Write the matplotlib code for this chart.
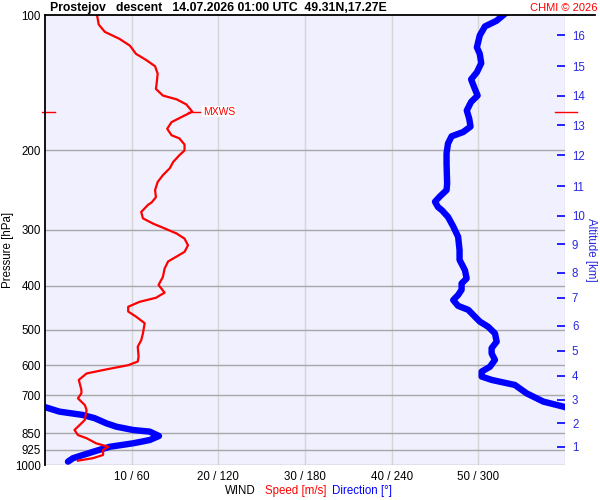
import numpy as np
import matplotlib.pyplot as plt
from matplotlib.lines import Line2D
from matplotlib.ticker import NullLocator

plt.rcParams['font.family'] = ['Liberation Sans', 'DejaVu Sans']

# pressure levels with labels (hPa)
p_labels = [100, 200, 300, 400, 500, 600, 700, 850, 925, 1000]
p_grid = [200, 300, 400, 500, 600, 700, 850, 925, 1000]
speed_ticks = [10, 20, 30, 40, 50]
speed_tick_labels = ['10 / 60', '20 / 120', '30 / 180', '40 / 240', '50 / 300']

# altitude (km) against pressure (hPa) of this sounding
alt_km = [1, 2, 3, 4, 5, 6, 7, 8, 9, 10, 11, 12, 13, 14, 15, 16]
alt_p = [911, 807, 717, 633, 558, 491, 425, 374, 323, 279, 240, 205, 176, 151, 130, 111]

# wind speed profile
spd_p = [100, 105, 109, 113, 117, 122, 126, 130, 135, 141, 146, 151, 154, 158, 164,
         168, 173, 179, 185, 188, 194, 200, 205, 212, 219, 227, 235, 245, 254, 261,
         264, 274, 283, 291, 298, 306, 314, 325, 336, 344, 353, 366, 382, 398, 414,
         425, 434, 445, 456, 468, 484, 510, 528, 546, 574, 589, 600, 613, 626, 647,
         681, 693, 711, 736, 755, 794, 815, 836, 858, 872, 895, 911, 926, 950, 966, 978]
spd = [6.0, 6.2, 6.9, 8.6, 9.8, 10.5, 11.7, 12.7, 13.0, 12.9, 12.8, 13.6, 15.2, 16.3, 17.0,
       15.9, 14.6, 14.1, 14.6, 15.5, 16.1, 16.1, 15.5, 14.8, 14.4, 13.6, 13.0, 12.7, 12.8, 12.3,
       11.9, 11.1, 11.3, 12.5, 13.8, 15.2, 16.1, 16.5, 16.1, 15.2, 14.2, 13.8, 13.6, 13.1, 13.8,
       12.8, 10.9, 9.6, 9.6, 10.5, 11.5, 11.3, 11.1, 10.7, 10.8, 10.7, 9.6, 7.1, 4.8, 3.9,
       4.2, 4.2, 3.8, 4.6, 4.8, 4.6, 4.0, 3.4, 3.8, 4.8, 5.9, 7.3, 6.7, 6.7, 5.5, 3.8]

# wind direction profile (deg)
dir_p = [99, 103, 106, 111, 118, 122, 128, 134, 139, 146, 151, 156, 163, 170, 177,
         182, 186, 193, 203, 214, 237, 245, 253, 260, 267, 272, 281, 295, 311, 333,
         350, 369, 385, 395, 408, 419, 430, 443, 452, 468, 480, 493, 510, 532, 550,
         565, 584, 605, 620, 636, 647, 664, 693, 723, 742, 761, 774, 787, 808, 822,
         836, 843, 862, 880, 895, 911, 930, 950, 966, 983]
wdir = [319, 312.6, 304.6, 301, 299, 301, 302, 299, 295, 297.6, 299.5, 295, 292, 293.7, 294.6,
        289.5, 281.5, 279, 278, 278, 278.4, 278, 273.4, 270, 272, 275, 279, 282.6, 286, 287,
        287, 290.7, 291.9, 288.4, 288.4, 286, 282.6, 286, 293, 297.6, 301, 306.8, 311.5, 312.7, 309.2,
        309.2, 311.5, 308, 302.3, 302.3, 309.2, 325.3, 333.4, 345, 359, 10, 26, 34.4, 42.5, 49.4,
        60.9, 72.5, 78.9, 72.5, 60.9, 44.8, 35.5, 26.3, 19.3, 15.9]

mxws_p = 164
mxws_speed = 17.0

fig = plt.figure(figsize=(6, 5), dpi=100)
ax = fig.add_axes([45 / 600, 35 / 500, 520 / 600, 450 / 500])
ax.set_facecolor('#f0f0ff')
ax.set_yscale('log')
ax.set_ylim(1000, 100)
ax.set_xlim(0, 60)

ax.set_yticks(p_labels)
ax.set_yticklabels([str(p) for p in p_labels])
ax.yaxis.set_minor_locator(NullLocator())
ax.set_xticks(speed_ticks)
ax.set_xticklabels(speed_tick_labels)
ax.tick_params(axis='both', length=0, labelsize=8.3, colors='black')
ax.tick_params(axis='y', pad=3)
ax.tick_params(axis='x', pad=4)

for s in ['top', 'right', 'bottom']:
    ax.spines[s].set_visible(False)
ax.spines['left'].set_linewidth(1.3)
ax.spines['left'].set_zorder(5)

# grid
ax.vlines(speed_ticks + [60], 1000, 100, color='#d6d6d6', lw=1, zorder=1)
ax.hlines(p_grid, 0, 60, color='#a8a8a8', lw=1, zorder=1)

# direction axis on top of the same frame
axd = ax.twiny()
axd.set_xlim(0, 360)
axd.set_xticks([])
for s in axd.spines.values():
    s.set_visible(False)

d_un = np.unwrap(np.array(wdir), period=360)
for shift in [0, -360]:
    ax.plot(d_un + shift, dir_p, color='blue', lw=4.6, solid_capstyle='round',
            solid_joinstyle='round', transform=axd.transData, zorder=2)

ax.plot(spd, spd_p, color='red', lw=1.6, solid_joinstyle='round', zorder=3)

# max wind marker
ax.plot([mxws_speed - 0.5, mxws_speed + 0.9], [mxws_p, mxws_p], color='red', lw=1, zorder=3)
ax.text(mxws_speed + 1.2, mxws_p, 'MXWS', color='red', fontsize=7.5, va='center', ha='left',
        bbox=dict(facecolor='white', edgecolor='none', pad=0.5), zorder=4)
yax = ax.get_yaxis_transform()
ax.add_line(Line2D([-0.005, 0.02], [mxws_p, mxws_p], color='red', lw=1, transform=yax, clip_on=False))
ax.add_line(Line2D([0.981, 1.023], [mxws_p, mxws_p], color='red', lw=1, transform=yax, clip_on=False))

# altitude axis
axa = ax.twinx()
axa.set_yscale('log')
axa.set_ylim(1000, 100)
axa.set_yticks(alt_p)
axa.set_yticklabels([str(a) for a in alt_km])
axa.yaxis.set_minor_locator(NullLocator())
axa.tick_params(axis='y', direction='in', length=6, width=1.2, color='blue',
                labelcolor='#2828e0', labelsize=8.3, pad=5)
for s in axa.spines.values():
    s.set_visible(False)

# top frame line reaching past the plot
fig.add_artist(Line2D([45 / 600, 595 / 600], [485 / 500, 485 / 500], color='black', lw=1.3))

fig.text(50 / 600, 1 - 8 / 500, 'Prostejov   descent   14.07.2026 01:00 UTC  49.31N,17.27E',
         fontsize=8.8, weight='bold', va='center', ha='left')
fig.text(597 / 600, 1 - 8 / 500, 'CHMI © 2026', color='red', fontsize=8, va='center', ha='right')
fig.text(8 / 600, 0.5, 'Pressure [hPa]', rotation=90, fontsize=8.3, va='center', ha='center')
fig.text(591 / 600, 0.5, 'Altitude [km]', rotation=-90, fontsize=8.3, va='center', ha='center',
         color='#2828e0')
fig.text(225 / 600, 9 / 500, 'WIND', fontsize=8.3, va='center', ha='left')
fig.text(265 / 600, 9 / 500, 'Speed [m/s]', fontsize=8.3, va='center', ha='left', color='red')
fig.text(332 / 600, 9 / 500, 'Direction [°]', fontsize=8.3, va='center', ha='left', color='blue')

fig.savefig('out.png', dpi=100)
